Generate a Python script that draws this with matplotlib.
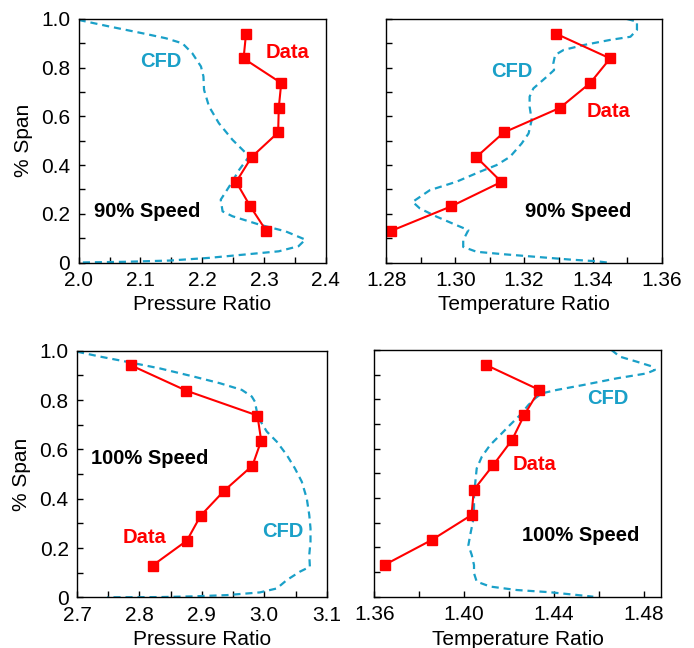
import numpy as np
import matplotlib.pyplot as plt
from matplotlib.ticker import MultipleLocator, FixedLocator, FixedFormatter

plt.rcParams['font.family'] = ['Liberation Sans', 'DejaVu Sans']

RED = '#ff0000'
CYAN = '#1aa0c8'

# measured span locations (same for every traverse)
span = [0.94, 0.838, 0.737, 0.635, 0.534, 0.433, 0.331, 0.230, 0.129]

# 90% speed -- pressure ratio
pr90_data = [2.271, 2.267, 2.328, 2.324, 2.323, 2.280, 2.255, 2.278, 2.304]
pr90_cfd_x = [2.0, 2.05, 2.104, 2.141, 2.168, 2.184, 2.198, 2.202, 2.203, 2.211, 2.227,
              2.249, 2.276, 2.260, 2.244, 2.230, 2.233, 2.249, 2.292, 2.335, 2.367,
              2.356, 2.324, 2.270, 2.211, 2.147, 2.077, 2.0]
pr90_cfd_y = [0.996, 0.969, 0.941, 0.921, 0.900, 0.859, 0.805, 0.764, 0.709, 0.641, 0.572,
              0.504, 0.436, 0.381, 0.313, 0.258, 0.210, 0.190, 0.156, 0.128, 0.094,
              0.067, 0.046, 0.033, 0.019, 0.008, 0.003, 0.0]

# 90% speed -- temperature ratio
tr90_data = [1.3292, 1.3450, 1.3392, 1.3304, 1.3141, 1.3061, 1.3134, 1.2987, 1.2812]
tr90_cfd_x = [1.3499, 1.3528, 1.3528, 1.3509, 1.3450, 1.3373, 1.3315, 1.3290, 1.3285,
              1.3287, 1.3266, 1.3227, 1.3216, 1.3216, 1.3222, 1.3213, 1.3193, 1.3159,
              1.3120, 1.3072, 1.3004, 1.2926, 1.2876, 1.2897, 1.2946, 1.3004, 1.3038,
              1.3023, 1.3023, 1.3062, 1.3140, 1.3237, 1.3334, 1.3412, 1.3441]
tr90_cfd_y = [1.0, 0.989, 0.955, 0.927, 0.914, 0.893, 0.873, 0.852, 0.818,
              0.790, 0.763, 0.715, 0.681, 0.640, 0.585, 0.530, 0.489, 0.434,
              0.400, 0.373, 0.332, 0.297, 0.249, 0.222, 0.188, 0.153, 0.133,
              0.092, 0.064, 0.044, 0.034, 0.023, 0.012, 0.005, 0.0]

# 100% speed -- pressure ratio
pr100_data = [2.787, 2.875, 2.989, 2.995, 2.981, 2.936, 2.898, 2.876, 2.821]
pr100_cfd_x = [2.7, 2.737, 2.78, 2.833, 2.887, 2.929, 2.964, 2.98, 2.985, 2.988, 2.991,
               3.004, 3.02, 3.036, 3.049, 3.06, 3.068, 3.072, 3.074, 3.074, 3.072,
               3.073, 3.057, 3.036, 3.02, 2.993, 2.94, 2.887, 2.833, 2.748]
pr100_cfd_y = [0.996, 0.976, 0.955, 0.928, 0.895, 0.868, 0.841, 0.814, 0.793, 0.753, 0.726,
               0.672, 0.631, 0.577, 0.523, 0.469, 0.401, 0.334, 0.280, 0.226, 0.172,
               0.124, 0.104, 0.070, 0.036, 0.020, 0.009, 0.004, 0.001, 0.0]

# 100% speed -- temperature ratio
tr100_data = [1.4096, 1.4335, 1.4268, 1.4213, 1.4130, 1.4043, 1.4033, 1.3856, 1.3646]
tr100_cfd_x = [1.4656, 1.4693, 1.4767, 1.4841, 1.4849, 1.4812, 1.4679, 1.4530, 1.4412,
               1.4345, 1.4316, 1.4286, 1.4249, 1.4204, 1.4160, 1.4116, 1.4079, 1.4056,
               1.4050, 1.4044, 1.4044, 1.4039, 1.4027, 1.4019, 1.4034, 1.4044, 1.4044,
               1.4056, 1.4116, 1.4234, 1.4382, 1.4501, 1.4575]
tr100_cfd_y = [1.0, 0.973, 0.953, 0.932, 0.919, 0.905, 0.885, 0.858, 0.838,
               0.824, 0.804, 0.777, 0.736, 0.696, 0.655, 0.615, 0.568, 0.520,
               0.466, 0.412, 0.358, 0.304, 0.250, 0.209, 0.169, 0.128, 0.095,
               0.061, 0.041, 0.027, 0.018, 0.007, 0.0]

span_ticks = [0, 0.2, 0.4, 0.6, 0.8, 1.0]
span_labels = ['0', '0.2', '0.4', '0.6', '0.8', '1.0']

pr90_ticks = [2.0, 2.1, 2.2, 2.3, 2.4]
tr90_ticks = [1.28, 1.30, 1.32, 1.34, 1.36]
pr100_ticks = [2.7, 2.8, 2.9, 3.0, 3.1]
tr100_ticks = [1.36, 1.40, 1.44, 1.48]

fig = plt.figure(figsize=(6.94, 6.48), dpi=100)
ax1 = fig.add_axes([0.1134, 0.5949, 0.3559, 0.3758])
ax2 = fig.add_axes([0.5569, 0.5949, 0.3966, 0.3758])
ax3 = fig.add_axes([0.1110, 0.0782, 0.3598, 0.3806])
ax4 = fig.add_axes([0.5393, 0.0792, 0.4127, 0.3807])

panels = [
    (ax1, pr90_data, pr90_cfd_x, pr90_cfd_y, (2.0, 2.4), pr90_ticks, 0.05, '%.1f', 'Pressure Ratio'),
    (ax2, tr90_data, tr90_cfd_x, tr90_cfd_y, (1.28, 1.36), tr90_ticks, 0.01, '%.2f', 'Temperature Ratio'),
    (ax3, pr100_data, pr100_cfd_x, pr100_cfd_y, (2.7, 3.1), pr100_ticks, 0.05, '%.1f', 'Pressure Ratio'),
    (ax4, tr100_data, tr100_cfd_x, tr100_cfd_y, (1.36, 1.4875), tr100_ticks, 0.02, '%.2f', 'Temperature Ratio'),
]

for ax, data, cx, cy, xlim, xticks, minor, fmt, xlabel in panels:
    ax.plot(cx, cy, color=CYAN, lw=1.6, dashes=(3.2, 2.2))
    ax.plot(data, span, color=RED, lw=1.5, marker='s', ms=6.5, mec=RED, mfc=RED)
    ax.set_xlim(*xlim)
    ax.set_ylim(0, 1.0)
    ax.xaxis.set_major_locator(FixedLocator(xticks))
    ax.xaxis.set_major_formatter(FixedFormatter([fmt % t for t in xticks]))
    ax.xaxis.set_minor_locator(MultipleLocator(minor))
    ax.yaxis.set_major_locator(FixedLocator(span_ticks))
    ax.yaxis.set_minor_locator(MultipleLocator(0.1))
    ax.tick_params(which='both', direction='in', length=4, width=1, labelsize=15, pad=6)
    for s in ax.spines.values():
        s.set_linewidth(1.0)
    ax.set_xlabel(xlabel, fontsize=15, labelpad=4)

for ax in (ax1, ax3):
    ax.yaxis.set_major_formatter(FixedFormatter(span_labels))
    ax.set_ylabel('% Span', fontsize=15, labelpad=6)
for ax in (ax2, ax4):
    ax.tick_params(axis='y', labelleft=False)

lbl = dict(fontsize=14.5, fontweight='bold', ha='center', va='center')
ax1.text(0.332, 0.825, 'CFD', color=CYAN, transform=ax1.transAxes, **lbl)
ax1.text(0.845, 0.862, 'Data', color=RED, transform=ax1.transAxes, **lbl)
ax1.text(0.279, 0.209, '90% Speed', color='black', transform=ax1.transAxes, **lbl)

ax2.text(0.455, 0.784, 'CFD', color=CYAN, transform=ax2.transAxes, **lbl)
ax2.text(0.805, 0.622, 'Data', color=RED, transform=ax2.transAxes, **lbl)
ax2.text(0.697, 0.209, '90% Speed', color='black', transform=ax2.transAxes, **lbl)

ax3.text(0.292, 0.564, '100% Speed', color='black', transform=ax3.transAxes, **lbl)
ax3.text(0.272, 0.242, 'Data', color=RED, transform=ax3.transAxes, **lbl)
ax3.text(0.824, 0.266, 'CFD', color=CYAN, transform=ax3.transAxes, **lbl)

ax4.text(0.817, 0.802, 'CFD', color=CYAN, transform=ax4.transAxes, **lbl)
ax4.text(0.559, 0.534, 'Data', color=RED, transform=ax4.transAxes, **lbl)
ax4.text(0.722, 0.250, '100% Speed', color='black', transform=ax4.transAxes, **lbl)

fig.savefig('out.png', dpi=100)
